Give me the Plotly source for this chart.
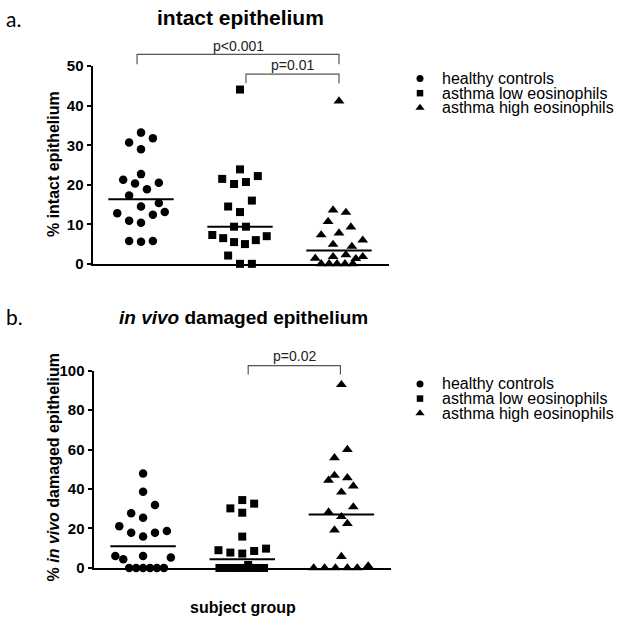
import numpy as np
import plotly.graph_objects as go

W, H = 624, 626
# observed vertical mapping of the photographed page: shown_y = Y0 + YS * page_y
Y0, YS = 8.67, 0.9747

groups = ["healthy controls", "asthma low eosinophils", "asthma high eosinophils"]
symbols = ["circle", "square", "triangle-up"]
marker_sizes = [8.5, 8, 9.5]

# Panel a: % intact epithelium (values and horizontal jitter, in category units)
intact_healthy = [33.2, 30.7, 31.8, 29.0, 22.7, 21.3, 20.3, 18.9, 20.5, 17.3,
                  12.8, 14.5, 15.4, 12.4, 13.1, 10.9, 10.4, 5.8, 5.6, 5.8]
intact_healthy_jitter = [0, -0.12, 0.12, 0, 0, -0.18, -0.06, 0.06, 0.18, -0.12,
                         -0.24, 0, 0.18, 0.12, 0.24, -0.12, 0, -0.12, 0, 0.12]
intact_low = [44.1, 23.9, 21.5, 20.2, 20.7, 22.2, 16.0, 14.5, 13.1, 9.4,
              9.4, 7.3, 6.5, 5.5, 5.0, 6.0, 7.0, 2.1, 0, 0]
intact_low_jitter = [0, 0, -0.18, -0.06, 0.06, 0.18, 0.12, -0.12, 0, -0.06,
                     0.06, -0.28, -0.17, -0.06, 0.05, 0.16, 0.27, -0.12, 0, 0.12]
intact_high = [41.2, 13.6, 13.0, 10.7, 9.3, 7.3, 7.8, 6.0, 4.9, 4.4,
               1.4, 1.8, 2.3, 1.3, 1.8, 0, 0, 0, 0, 0]
intact_high_jitter = [0, -0.06, 0.07, -0.11, 0.12, -0.18, 0, 0.24, -0.06, 0.13,
                      -0.24, -0.06, 0.07, 0.17, 0.24, -0.18, -0.1, -0.02, 0.06, 0.14]

# Panel b: % in vivo damaged epithelium
damaged_healthy = [47.9, 38.6, 31.9, 27.7, 25.5, 21.2, 17.9, 15.9, 17.9, 18.7,
                   6.1, 4.4, 6.1, 5.3, 0, 0, 0, 0, 0, 0]
damaged_healthy_jitter = [0, 0, 0.12, -0.12, 0, -0.24, -0.12, 0, 0.12, 0.24,
                          -0.28, -0.2, 0, 0.28, -0.14, -0.07, 0, 0.07, 0.14, 0.21]
damaged_low = [34.4, 30.2, 32.6, 28.0, 15.9, 9.0, 7.8, 7.3, 8.6, 9.8,
               1.5, 0, 0, 0, 0, 0, 0, 0, 0, 0]
damaged_low_jitter = [0, -0.12, 0.12, 0, 0, -0.24, -0.12, 0, 0.12, 0.24,
                      0.06, -0.23, -0.17, -0.11, -0.06, 0, 0.06, 0.11, 0.17, 0.22]
damaged_high = [92.9, 60.0, 55.8, 46.9, 44.4, 45.7, 41.5, 38.4, 30.9, 28.3,
                26.0, 22.5, 19.2, 5.8, 0, 0, 0, 0, 0, 1.0]
damaged_high_jitter = [0, 0.06, -0.07, -0.07, -0.13, 0.06, 0.12, 0, 0.12, -0.13,
                       0, 0.06, -0.07, 0, -0.28, -0.17, -0.06, 0.06, 0.16, 0.27]

intact_ticks = [0, 10, 20, 30, 40, 50]
damaged_ticks = [0, 20, 40, 60, 80, 100]

FONT = "Liberation Sans, Arial, sans-serif"


def px_x(p):
    return p / W


def px_y(p):
    page_y = (p - Y0) / YS
    return 1 - page_y / H


fig = go.Figure()

panels = [
    ("x", "y", [(intact_healthy, intact_healthy_jitter),
                (intact_low, intact_low_jitter),
                (intact_high, intact_high_jitter)]),
    ("x2", "y2", [(damaged_healthy, damaged_healthy_jitter),
                  (damaged_low, damaged_low_jitter),
                  (damaged_high, damaged_high_jitter)]),
]

for xa, ya, series in panels:
    for gi, (vals, jit) in enumerate(series):
        center = gi + 1
        fig.add_trace(go.Scatter(
            x=[center + j for j in jit], y=vals, mode="markers",
            marker=dict(symbol=symbols[gi], size=marker_sizes[gi], color="black",
                        line=dict(width=0)),
            cliponaxis=False, showlegend=False, xaxis=xa, yaxis=ya,
            name=groups[gi]))
        med = float(np.median(vals))
        fig.add_trace(go.Scatter(
            x=[center - 0.33, center + 0.33], y=[med, med], mode="lines",
            line=dict(color="black", width=2), showlegend=False,
            xaxis=xa, yaxis=ya, hoverinfo="skip"))

# Custom legends (one per panel) on hidden axes
for xa, ya in [("x3", "y3"), ("x4", "y4")]:
    for gi in range(3):
        fig.add_trace(go.Scatter(
            x=[0], y=[gi], mode="markers",
            marker=dict(symbol=symbols[gi], size=[7, 6.5, 8][gi], color="black"),
            showlegend=False, xaxis=xa, yaxis=ya, cliponaxis=False, hoverinfo="skip"))

axis_common = dict(showgrid=False, zeroline=False, showline=True, linecolor="black",
                   linewidth=2)
yaxis_common = dict(ticks="outside", ticklen=4, tickwidth=2, tickcolor="black",
                    tickfont=dict(size=15, weight="bold", family=FONT), **axis_common)

fig.update_layout(
    width=W, height=H, margin=dict(l=0, r=0, t=0, b=0),
    plot_bgcolor="white", paper_bgcolor="white",
    font=dict(family=FONT, color="black"),
    xaxis=dict(domain=[px_x(92.5), px_x(388.5)], range=[0.51, 3.5], showticklabels=False,
               ticks="", anchor="y", **axis_common),
    yaxis=dict(domain=[px_y(264), px_y(66)], range=[0, 50], tickvals=intact_ticks,
               anchor="x", **yaxis_common),
    xaxis2=dict(domain=[px_x(93.5), px_x(391)], range=[0.5, 3.5], showticklabels=False,
                ticks="", anchor="y2", **axis_common),
    yaxis2=dict(domain=[px_y(568.7), px_y(371)], range=[0, 100], tickvals=damaged_ticks,
                anchor="x2", **yaxis_common),
    xaxis3=dict(domain=[px_x(410), 1], range=[-10, 204], visible=False, anchor="y3"),
    yaxis3=dict(domain=[px_y(115), px_y(71)], range=[2.5, -0.5], visible=False, anchor="x3"),
    xaxis4=dict(domain=[px_x(410), 1], range=[-10, 204], visible=False, anchor="y4"),
    yaxis4=dict(domain=[px_y(421), px_y(377)], range=[2.5, -0.5], visible=False, anchor="x4"),
)

ann = []
# legend texts
for xa, ya in [("x3", "y3"), ("x4", "y4")]:
    for gi, g in enumerate(groups):
        ann.append(dict(x=20, y=gi, xref=xa, yref=ya, text=g, showarrow=False,
                        xanchor="left", yanchor="middle",
                        font=dict(size=16, family=FONT)))

# panel letters and titles
ann += [
    dict(x=px_x(4), y=px_y(18), xref="paper", yref="paper", text="a.", showarrow=False,
         xanchor="left", yanchor="middle", font=dict(size=21, family="Lato, sans-serif")),
    dict(x=px_x(4), y=px_y(317), xref="paper", yref="paper", text="b.", showarrow=False,
         xanchor="left", yanchor="middle", font=dict(size=21, family="Lato, sans-serif")),
    dict(x=px_x(240), y=px_y(17), xref="paper", yref="paper", text="intact epithelium",
         showarrow=False, xanchor="center", yanchor="middle",
         font=dict(size=21, weight="bold", family=FONT)),
    dict(x=px_x(243), y=px_y(318), xref="paper", yref="paper",
         text="<i>in vivo</i> damaged epithelium",
         showarrow=False, xanchor="center", yanchor="middle",
         font=dict(size=19, weight="bold", family=FONT)),
    dict(x=px_x(53), y=px_y(164), xref="paper", yref="paper", text="% intact epithelium",
         showarrow=False, textangle=-90, xanchor="center", yanchor="middle",
         font=dict(size=16, weight="bold", family=FONT)),
    dict(x=px_x(53), y=px_y(468), xref="paper", yref="paper",
         text="% <i>in vivo</i> damaged epithelium",
         showarrow=False, textangle=-90, xanchor="center", yanchor="middle",
         font=dict(size=16, weight="bold", family=FONT)),
    dict(x=px_x(243), y=px_y(608), xref="paper", yref="paper", text="subject group",
         showarrow=False, xanchor="center", yanchor="middle",
         font=dict(size=16, weight="bold", family=FONT)),
]

# significance brackets: (xref, yref, x_left, x_right, y_bottom, y_top, ymax, label, label_y)
brackets = [
    ("x", "y", 0.96, 3.0, 50.5, 53.0, 50, "p<0.001", 55.2),
    ("x", "y", 2.06, 3.0, 45.7, 48.0, 50, "p=0.01", 50.2),
    ("x2", "y2", 2.06, 2.99, 98.0, 102.5, 100, "p=0.02", 107.2),
]
shapes = []
for xr, yr, xl, xrt, yb, yt, ymax, label, ly in brackets:
    shapes.append(dict(type="path", xref=xr, yref=yr + " domain",
                       path=f"M {xl},{yb / ymax} L {xl},{yt / ymax} L {xrt},{yt / ymax} L {xrt},{yb / ymax}",
                       line=dict(color="#555555", width=1.2)))
    ann.append(dict(x=(xl + xrt) / 2, y=ly / ymax, xref=xr, yref=yr + " domain",
                    text=label, showarrow=False,
                    xanchor="center", yanchor="middle",
                    font=dict(size=14, family=FONT, color="#222222")))

fig.update_layout(annotations=ann, shapes=shapes)

post = ("document.documentElement.style.margin='0';"
        "document.documentElement.style.overflow='hidden';"
        "document.body.style.margin='0';"
        "document.body.style.overflow='hidden';")

fig.write_html("out.html", config={"displayModeBar": False, "responsive": False},
               post_script=post)
